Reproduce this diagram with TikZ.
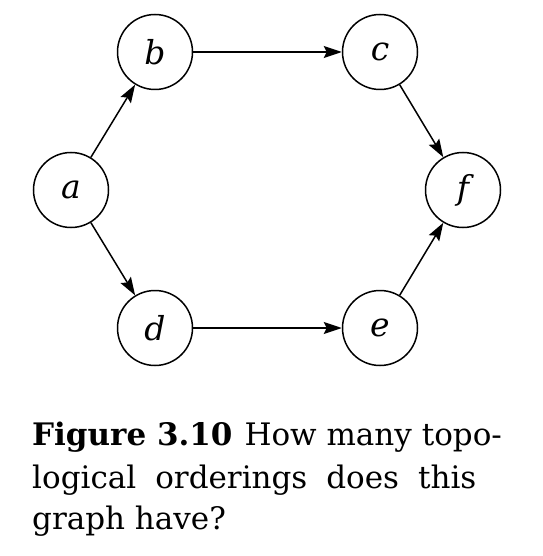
\documentclass[tikz,border=0pt]{standalone}
\usepackage{fontspec}
\setmainfont{DejaVu Serif}
\usetikzlibrary{arrows.meta,positioning}

\tikzset{
  vertex/.style={draw,circle,line width=1.5pt,minimum size=75pt,inner sep=0pt,
    font=\fontsize{33}{40}\selectfont\itshape},
  edge/.style={line width=1.5pt,-{Stealth[length=18pt,width=12pt,inset=3pt]}},
  captionline/.style={anchor=base west,inner sep=0pt,font=\fontsize{31}{40}\selectfont}
}

\begin{document}
\begin{tikzpicture}[x=1pt,y=-1pt]
        \useasboundingbox (0,0) rectangle (542,556);
        % Vertices
        \node[vertex] (a) at (71,190) {a};
        \node[vertex] (b) at (155,52) {b};
        \node[vertex] (c) at (380,52) {c};
        \node[vertex] (d) at (155,328) {d};
        \node[vertex] (e) at (380,328) {e};
        \node[vertex] (f) at (463,190) {f};
        % Edges
        \draw[edge] (a) -- (b);
        \draw[edge] (a) -- (d);
        \draw[edge] (b) -- (c);
        \draw[edge] (d) -- (e);
        \draw[edge] (c) -- (f);
        \draw[edge] (e) -- (f);
        % Caption
        \node[captionline] (cap1) at (32,445) {\textbf{Figure 3.10}\hspace{12pt}How many topo-};
        \node[captionline] (cap2) at (32,488) {logical\hspace{19pt}orderings\hspace{19pt}does\hspace{19pt}this};
        \node[captionline] (cap3) at (32,529) {graph have?};
      \end{tikzpicture}
\end{document}
